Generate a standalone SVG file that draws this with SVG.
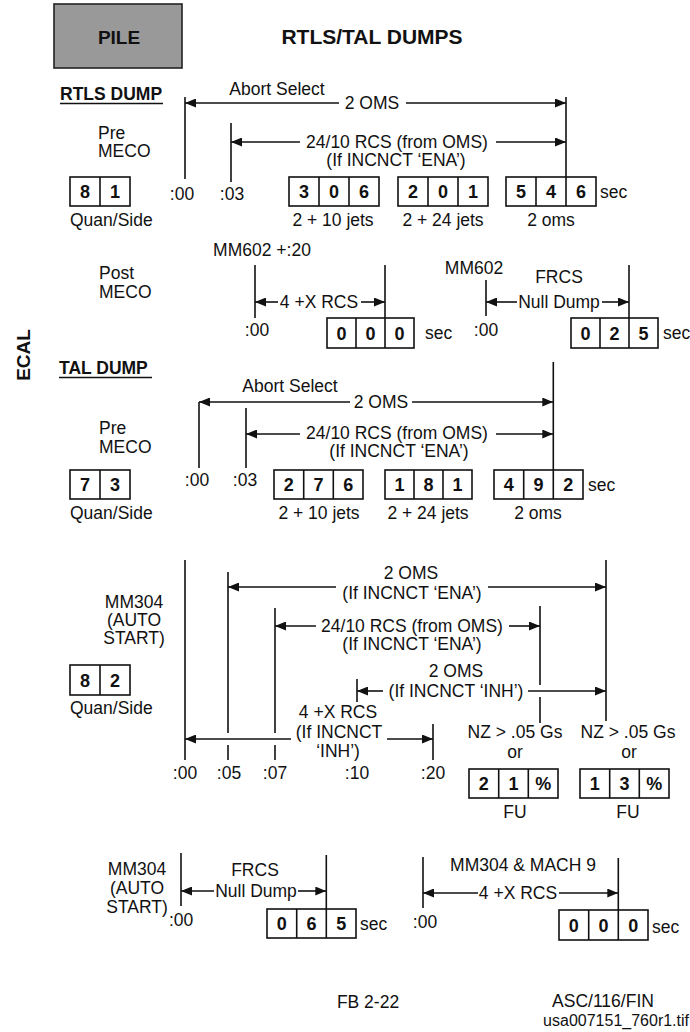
<svg xmlns="http://www.w3.org/2000/svg" width="690" height="1032" viewBox="0 0 690 1032">
<defs>
<marker id="ah" viewBox="0 0 11 9" refX="11" refY="4.5" markerWidth="11" markerHeight="9" markerUnits="userSpaceOnUse" orient="auto-start-reverse"><path d="M0,0 L11,4.5 L0,9 z" fill="#111"/></marker>
<style>
text{font-family:"Liberation Sans",Arial,sans-serif;font-size:17.5px;fill:#111}
.c{text-anchor:middle}
.d{font-weight:bold;font-size:18px;text-anchor:middle}
.h{font-weight:bold;font-size:21px;text-anchor:middle}
.u{font-weight:bold;font-size:17.5px}
line{stroke:#111;stroke-width:1.6;fill:none}
.bx{fill:#fff;stroke:#111;stroke-width:1.6}
.a{marker-end:url(#ah)}
.s{marker-start:url(#ah)}
</style>
</defs>
<rect width="690" height="1032" fill="#fff"/>

<g id="header">
<rect x="54" y="4" width="128" height="64" fill="#999" stroke="#222" stroke-width="1.6"/>
<text x="119" y="44" class="h" style="font-size:19px">PILE</text>
<text x="372" y="44" class="h">RTLS/TAL DUMPS</text>
</g>

<g id="ecal"><text class="h" transform="translate(30,355) rotate(-90)" style="font-size:19px">ECAL</text></g>

<!-- RTLS DUMP -->
<g id="rtls-title"><text x="60" y="100" class="u">RTLS DUMP</text><line x1="60" y1="103.5" x2="163" y2="103.5"/></g>
<g id="rtls-pre-label"><text x="98" y="139">Pre</text><text x="98" y="157">MECO</text></g>
<g id="rtls-quan">
<rect class="bx" x="70" y="177" width="60" height="29"/><line x1="100" y1="177" x2="100" y2="206"/>
<text x="85" y="198" class="d">8</text><text x="115" y="198" class="d">1</text>
<text x="70" y="226">Quan/Side</text>
</g>
<g id="rtls-306">
<rect class="bx" x="289" y="177" width="90" height="29"/><line x1="319" y1="177" x2="319" y2="206"/><line x1="349" y1="177" x2="349" y2="206"/>
<text x="304" y="198" class="d">3</text><text x="334" y="198" class="d">0</text><text x="364" y="198" class="d">6</text>
<text x="333" y="226" class="c">2 + 10 jets</text>
</g>
<g id="rtls-201">
<rect class="bx" x="398" y="177" width="90" height="29"/><line x1="428" y1="177" x2="428" y2="206"/><line x1="458" y1="177" x2="458" y2="206"/>
<text x="413" y="198" class="d">2</text><text x="443" y="198" class="d">0</text><text x="473" y="198" class="d">1</text>
<text x="443" y="226" class="c">2 + 24 jets</text>
</g>
<g id="rtls-546">
<rect class="bx" x="506" y="177" width="90" height="29"/><line x1="536" y1="177" x2="536" y2="206"/><line x1="566" y1="177" x2="566" y2="206"/>
<text x="521" y="198" class="d">5</text><text x="551" y="198" class="d">4</text><text x="581" y="198" class="d">6</text>
<text x="600" y="198">sec</text>
<text x="551" y="226" class="c">2 oms</text>
</g>
<g id="rtls-pre-timeline">
<text x="277" y="95" class="c">Abort Select</text>
<text x="372" y="109" class="c">2 OMS</text>
<text x="397" y="148" class="c">24/10 RCS (from OMS)</text>
<text x="396" y="166" class="c">(If INCNCT ‘ENA’)</text>
<text x="182" y="200" class="c">:00</text>
<text x="232" y="200" class="c">:03</text>
</g>

<!-- Post MECO -->
<g id="post-label"><text x="99" y="279">Post</text><text x="99" y="298">MECO</text></g>
<g id="post-rcs">
<text x="262" y="256" class="c">MM602 +:20</text>
<text x="257" y="336" class="c">:00</text>
<text x="319" y="308" class="c">4 +X RCS</text>
<rect class="bx" x="327" y="318" width="87" height="30"/><line x1="356" y1="318" x2="356" y2="348"/><line x1="385" y1="318" x2="385" y2="348"/>
<text x="341.5" y="340" class="d">0</text><text x="370.5" y="340" class="d">0</text><text x="399.5" y="340" class="d">0</text>
<text x="425" y="339">sec</text>
</g>
<g id="post-frcs">
<text x="474" y="274" class="c">MM602</text>
<text x="559" y="283" class="c">FRCS</text>
<text x="559" y="308" class="c">Null Dump</text>
<text x="486" y="336" class="c">:00</text>
<rect class="bx" x="571" y="318" width="87" height="30"/><line x1="600" y1="318" x2="600" y2="348"/><line x1="629" y1="318" x2="629" y2="348"/>
<text x="585.5" y="340" class="d">0</text><text x="614.5" y="340" class="d">2</text><text x="643.5" y="340" class="d">5</text>
<text x="663" y="339">sec</text>
</g>

<!-- TAL DUMP -->
<g id="tal-title"><text x="59" y="374" class="u">TAL DUMP</text><line x1="59" y1="377.5" x2="152" y2="377.5"/></g>
<g id="tal-pre-label"><text x="99" y="434">Pre</text><text x="99" y="453">MECO</text></g>
<g id="tal-quan">
<rect class="bx" x="70" y="470" width="60" height="29"/><line x1="100" y1="470" x2="100" y2="499"/>
<text x="85" y="491" class="d">7</text><text x="115" y="491" class="d">3</text>
<text x="70" y="519">Quan/Side</text>
</g>
<g id="tal-276">
<rect class="bx" x="274" y="470" width="89" height="29"/><line x1="303.7" y1="470" x2="303.7" y2="499"/><line x1="333.3" y1="470" x2="333.3" y2="499"/>
<text x="288.8" y="491" class="d">2</text><text x="318.5" y="491" class="d">7</text><text x="348.2" y="491" class="d">6</text>
<text x="319" y="519" class="c">2 + 10 jets</text>
</g>
<g id="tal-181">
<rect class="bx" x="385" y="470" width="87" height="29"/><line x1="414" y1="470" x2="414" y2="499"/><line x1="443" y1="470" x2="443" y2="499"/>
<text x="399.5" y="491" class="d">1</text><text x="428.5" y="491" class="d">8</text><text x="457.5" y="491" class="d">1</text>
<text x="428" y="519" class="c">2 + 24 jets</text>
</g>
<g id="tal-492">
<rect class="bx" x="494" y="470" width="89" height="29"/><line x1="523.7" y1="470" x2="523.7" y2="499"/><line x1="553.3" y1="470" x2="553.3" y2="499"/>
<text x="508.8" y="491" class="d">4</text><text x="538.5" y="491" class="d">9</text><text x="568.2" y="491" class="d">2</text>
<text x="588" y="491">sec</text>
<text x="538" y="519" class="c">2 oms</text>
</g>
<g id="tal-pre-timeline">
<text x="290" y="392" class="c">Abort Select</text>
<text x="381" y="408" class="c">2 OMS</text>
<text x="397" y="439" class="c">24/10 RCS (from OMS)</text>
<text x="399" y="457" class="c">(If INCNCT ‘ENA’)</text>
<text x="197" y="486" class="c">:00</text>
<text x="245" y="486" class="c">:03</text>
</g>

<!-- MM304 auto start -->
<g id="mm304-label"><text x="134" y="608" class="c">MM304</text><text x="134" y="626" class="c">(AUTO</text><text x="134" y="644" class="c">START)</text></g>
<g id="mm304-quan">
<rect class="bx" x="70" y="665" width="60" height="30"/><line x1="100" y1="665" x2="100" y2="695"/>
<text x="85" y="687" class="d">8</text><text x="115" y="687" class="d">2</text>
<text x="70" y="714">Quan/Side</text>
</g>
<g id="mm304-timeline">
<text x="411" y="579" class="c">2 OMS</text>
<text x="412" y="599" class="c">(If INCNCT ‘ENA’)</text>
<text x="412" y="632" class="c">24/10 RCS (from OMS)</text>
<text x="412" y="650" class="c">(If INCNCT ‘ENA’)</text>
<text x="456" y="677" class="c">2 OMS</text>
<text x="456" y="697" class="c">(If INCNCT ‘INH’)</text>
<text x="338" y="718" class="c">4 +X RCS</text>
<text x="339" y="738" class="c">(If INCNCT</text>
<text x="338" y="757" class="c">‘INH’)</text>
<text x="185" y="779" class="c">:00</text>
<text x="229" y="779" class="c">:05</text>
<text x="275" y="779" class="c">:07</text>
<text x="357" y="779" class="c">:10</text>
<text x="433" y="779" class="c">:20</text>
</g>
<g id="nz-21">
<text x="515" y="738" class="c">NZ &gt; .05 Gs</text>
<text x="515" y="758" class="c">or</text>
<rect class="bx" x="469" y="769" width="89" height="29"/><line x1="498.7" y1="769" x2="498.7" y2="798"/><line x1="528.3" y1="769" x2="528.3" y2="798"/>
<text x="483.8" y="790" class="d">2</text><text x="513.5" y="790" class="d">1</text><text x="543.2" y="790" class="d">%</text>
<text x="515" y="818" class="c">FU</text>
</g>
<g id="nz-13">
<text x="628" y="738" class="c">NZ &gt; .05 Gs</text>
<text x="629" y="758" class="c">or</text>
<rect class="bx" x="580" y="769" width="89" height="29"/><line x1="609.7" y1="769" x2="609.7" y2="798"/><line x1="639.3" y1="769" x2="639.3" y2="798"/>
<text x="594.8" y="790" class="d">1</text><text x="624.5" y="790" class="d">3</text><text x="654.2" y="790" class="d">%</text>
<text x="628" y="818" class="c">FU</text>
</g>

<!-- Bottom -->
<g id="bottom-frcs">
<text x="137" y="875" class="c">MM304</text>
<text x="137" y="894" class="c">(AUTO</text>
<text x="137" y="913" class="c">START)</text>
<text x="169" y="926">:00</text>
<text x="255" y="876" class="c">FRCS</text>
<text x="256" y="897" class="c">Null Dump</text>
<rect class="bx" x="267" y="909" width="89" height="29"/><line x1="296.7" y1="909" x2="296.7" y2="938"/><line x1="326.3" y1="909" x2="326.3" y2="938"/>
<text x="281.8" y="930" class="d">0</text><text x="311.5" y="930" class="d">6</text><text x="341.2" y="930" class="d">5</text>
<text x="360" y="930">sec</text>
</g>
<g id="bottom-rcs">
<text x="523" y="871" class="c">MM304 &amp; MACH 9</text>
<text x="518" y="899" class="c">4 +X RCS</text>
<text x="425" y="928" class="c">:00</text>
<rect class="bx" x="559" y="910" width="89" height="30"/><line x1="588.7" y1="910" x2="588.7" y2="940"/><line x1="618.3" y1="910" x2="618.3" y2="940"/>
<text x="573.8" y="932" class="d">0</text><text x="603.5" y="932" class="d">0</text><text x="633.2" y="932" class="d">0</text>
<text x="652" y="933">sec</text>
</g>

<g id="footer">
<text x="368" y="1008" class="c">FB 2-22</text>
<text x="603" y="1007" class="c">ASC/116/FIN</text>
<text x="689" y="1026" style="text-anchor:end;font-size:16px">usa007151_760r1.tif</text>
</g>

<g id="connectors">
<!-- RTLS pre -->
<line x1="185" y1="97" x2="185" y2="179"/>
<line x1="566" y1="97" x2="566" y2="177"/>
<line class="s" x1="185" y1="103" x2="339" y2="103"/>
<line class="a" x1="406" y1="103" x2="566" y2="103"/>
<line x1="231" y1="123" x2="231" y2="182"/>
<line class="s" x1="231" y1="142" x2="300" y2="142"/>
<line class="a" x1="496" y1="142" x2="566" y2="142"/>
<!-- post -->
<line x1="255" y1="265" x2="255" y2="318"/>
<line x1="385" y1="265" x2="385" y2="318"/>
<line class="s" x1="255" y1="302" x2="278" y2="302"/>
<line class="a" x1="361" y1="302" x2="385" y2="302"/>
<line x1="486" y1="280" x2="486" y2="316"/>
<line x1="629" y1="265" x2="629" y2="318"/>
<line class="s" x1="486" y1="302" x2="517" y2="302"/>
<line class="a" x1="602" y1="302" x2="629" y2="302"/>
<!-- TAL pre -->
<line x1="553.3" y1="362" x2="553.3" y2="470"/>
<line x1="199" y1="402" x2="199" y2="468"/>
<line class="s" x1="199" y1="402" x2="350" y2="402"/>
<line class="a" x1="412" y1="402" x2="553.3" y2="402"/>
<line x1="246" y1="408" x2="246" y2="468"/>
<line class="s" x1="246" y1="434" x2="300" y2="434"/>
<line class="a" x1="496" y1="434" x2="553.3" y2="434"/>
<!-- MM304 -->
<line x1="185" y1="560" x2="185" y2="760"/>
<line x1="228" y1="572" x2="228" y2="733"/><line x1="228" y1="745" x2="228" y2="760"/>
<line x1="275" y1="608" x2="275" y2="733"/><line x1="275" y1="745" x2="275" y2="760"/>
<line x1="540" y1="606" x2="540" y2="685"/><line x1="540" y1="697" x2="540" y2="723"/>
<line x1="606" y1="560" x2="606" y2="721"/>
<line x1="357" y1="679" x2="357" y2="702"/>
<line x1="433" y1="724" x2="433" y2="760"/>
<line class="s" x1="228" y1="587" x2="336" y2="587"/>
<line class="a" x1="488" y1="587" x2="606" y2="587"/>
<line class="s" x1="275" y1="626" x2="316" y2="626"/>
<line class="a" x1="509" y1="626" x2="540" y2="626"/>
<line class="s" x1="357" y1="691" x2="383" y2="691"/>
<line class="a" x1="528" y1="691" x2="606" y2="691"/>
<line class="s" x1="185" y1="739" x2="291" y2="739"/>
<line class="a" x1="387" y1="739" x2="433" y2="739"/>
<!-- bottom -->
<line x1="181" y1="853" x2="181" y2="906"/>
<line x1="326.3" y1="855" x2="326.3" y2="909"/>
<line class="s" x1="181" y1="891" x2="214" y2="891"/>
<line class="a" x1="298" y1="891" x2="326.3" y2="891"/>
<line x1="423" y1="857" x2="423" y2="908"/>
<line x1="618.3" y1="858" x2="618.3" y2="910"/>
<line class="s" x1="423" y1="893" x2="478" y2="893"/>
<line class="a" x1="559" y1="893" x2="618.3" y2="893"/>
</g>
</svg>
